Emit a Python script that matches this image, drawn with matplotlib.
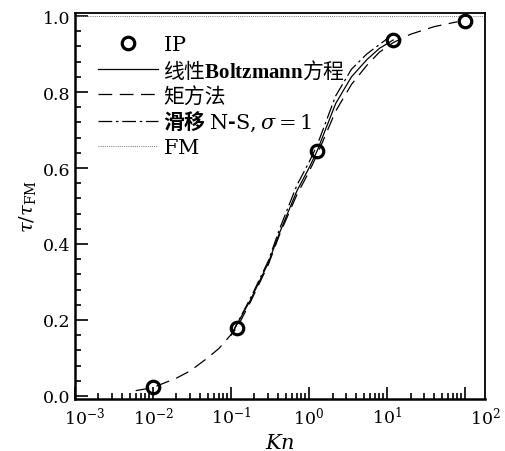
import matplotlib
matplotlib.use("Agg")
import matplotlib.pyplot as plt
import matplotlib.transforms as mtransforms
from matplotlib.ticker import LogLocator, MultipleLocator, FixedLocator, NullFormatter

plt.rcParams['mathtext.fontset'] = 'custom'
plt.rcParams['mathtext.rm'] = 'DejaVu Serif'
plt.rcParams['mathtext.it'] = 'DejaVu Serif:italic'
plt.rcParams['mathtext.bf'] = 'Liberation Serif:bold'
plt.rcParams['font.family'] = ['DejaVu Serif', 'Noto Sans CJK SC']

# ---- data ----
kn_ip = [0.01, 0.12, 1.25, 12.0, 100.0]
tau_ip = [0.024, 0.18, 0.645, 0.937, 0.988]

kn_lb = [0.1, 0.18, 0.3, 0.42, 0.7, 1.0, 1.27, 2.2, 3.5, 5.5, 8.0, 12.0]
tau_lb = [0.16, 0.255, 0.35, 0.43, 0.54, 0.60, 0.645, 0.77, 0.84, 0.885, 0.915, 0.937]

kn_mm = [0.006, 0.01, 0.0135, 0.02, 0.03, 0.05, 0.07, 0.12, 0.18, 0.3, 0.42, 0.7,
         1.0, 1.27, 2.2, 3.5, 5.5, 8.0, 12.0, 20.0, 40.0, 80.0]
tau_mm = [0.014, 0.022, 0.033, 0.047, 0.066, 0.10, 0.125, 0.18, 0.25, 0.345, 0.425, 0.53,
          0.59, 0.635, 0.75, 0.82, 0.87, 0.905, 0.93, 0.952, 0.972, 0.985]

kn_ns = [0.1, 0.18, 0.3, 0.42, 0.7, 1.0, 1.27, 2.2, 3.5, 5.5, 10.0]
tau_ns = [0.16, 0.26, 0.355, 0.44, 0.555, 0.615, 0.66, 0.79, 0.86, 0.90, 0.94]

fm_value = 1.0

x_ticks = [1e-3, 1e-2, 1e-1, 1e0, 1e1, 1e2]
x_tick_labels = [r'$10^{-3}$', r'$10^{-2}$', r'$10^{-1}$', r'$10^{0}$', r'$10^{1}$', r'$10^{2}$']
y_ticks = [0.0, 0.2, 0.4, 0.6, 0.8, 1.0]
y_tick_labels = ['0.0', '0.2', '0.4', '0.6', '0.8', '1.0']

labels = [r'$\mathrm{IP}$',
          r'线性$\mathbf{Boltzmann}$方程',
          '矩方法',
          r'滑移 $\mathrm{N}$-$\mathrm{S},\sigma = 1$',
          r'$\mathrm{FM}$']

# ---- figure ----
fig = plt.figure(figsize=(5.05, 4.52), dpi=100)
ax = fig.add_axes([75/505, 1-400/452, 410/505, 386/452])

lw = 0.9
h_lb, = ax.plot(kn_lb, tau_lb, color='black', lw=lw, ls='-')
h_mm, = ax.plot(kn_mm, tau_mm, color='black', lw=lw, ls=(0, (11, 6)))
h_ns, = ax.plot(kn_ns, tau_ns, color='black', lw=lw, ls=(0, (11, 3, 2, 3)))
h_fm = ax.axhline(fm_value, color='#777777', lw=0.7, ls=(0, (1, 1.2)))
h_ip, = ax.plot(kn_ip, tau_ip, ls='none', marker='o', ms=9, mfc='none',
                mec='black', mew=2.3, clip_on=False, zorder=5)

ax.set_xscale('log')
ax.set_xlim(1e-3, 10**2.256)
ax.set_ylim(-0.008, 1.008)

ax.xaxis.set_major_locator(FixedLocator(x_ticks))
ax.set_xticklabels(x_tick_labels)
ax.xaxis.set_minor_locator(LogLocator(base=10, subs=range(2, 10), numticks=20))
ax.xaxis.set_minor_formatter(NullFormatter())
ax.set_yticks(y_ticks)
ax.set_yticklabels(y_tick_labels)
ax.yaxis.set_minor_locator(MultipleLocator(0.04))

ax.tick_params(which='both', direction='in', top=False, right=False, labelsize=12.5, width=1.2)
ax.tick_params(which='major', length=9)
ax.tick_params(which='minor', length=4.5)
ax.tick_params(axis='x', pad=5)
ax.tick_params(axis='y', pad=3)

# shift the end labels like the reference
xl = ax.get_xticklabels()
xl[0].set_transform(xl[0].get_transform() + mtransforms.ScaledTranslation(10/100, 0, fig.dpi_scale_trans))
xl[-1].set_transform(xl[-1].get_transform() + mtransforms.ScaledTranslation(20/100, 0, fig.dpi_scale_trans))

for s in ['left', 'bottom']:
    ax.spines[s].set_linewidth(1.8)
for s in ['top', 'right']:
    ax.spines[s].set_linewidth(1.3)

ax.set_xlabel(r'$Kn$', fontsize=15, labelpad=4)
ax.set_ylabel(r'$\tau/\tau_{\mathrm{FM}}$', fontsize=14, labelpad=4)

leg = ax.legend([h_ip, h_lb, h_mm, h_ns, h_fm], labels,
                loc='upper left', bbox_to_anchor=(0.055, 0.948), frameon=False,
                prop={'family': ['Noto Sans CJK SC'], 'size': 15},
                handlelength=2.9, handletextpad=0.25, labelspacing=0.14,
                borderaxespad=0, borderpad=0)
leg.get_texts()[3].set_fontweight('bold')

fig.savefig('out.png', dpi=100)
